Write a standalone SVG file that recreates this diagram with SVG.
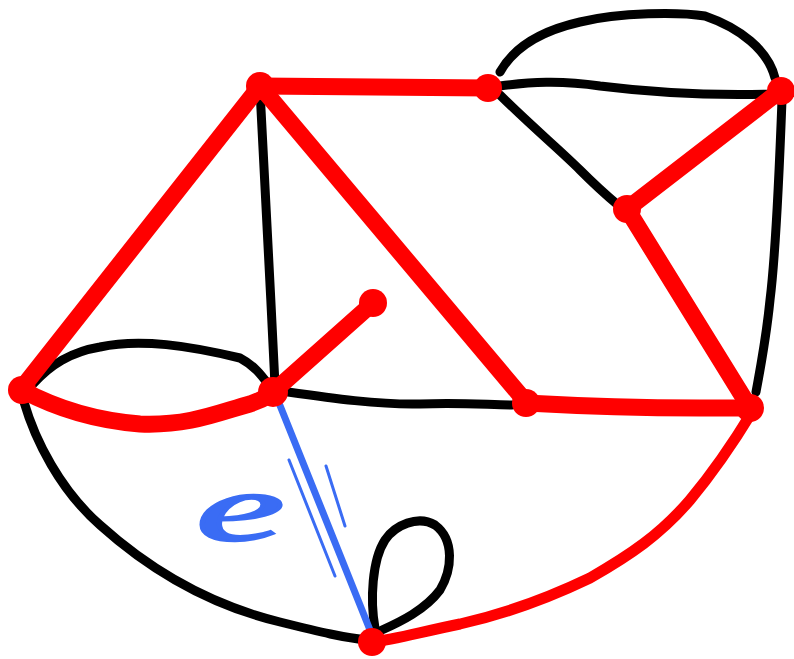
<svg xmlns="http://www.w3.org/2000/svg" width="794" height="659" viewBox="0 0 794 659">
<style>
.k{fill:none;stroke:#000;stroke-width:9;stroke-linecap:round;stroke-linejoin:round}
.r{fill:none;stroke:#ff0000;stroke-width:17;stroke-linecap:round;stroke-linejoin:round}
.rt{fill:none;stroke:#ff0000;stroke-width:11;stroke-linecap:round;stroke-linejoin:round}
.b{fill:none;stroke:#3a6cf4;stroke-linecap:round;stroke-linejoin:round}
.n{fill:#ff0000}
.lbl{font-family:"Liberation Serif",serif;font-style:italic;fill:#3a6cf4;stroke:#3a6cf4;stroke-width:2.5}
</style>
<rect width="794" height="659" fill="#fff"/>
<g id="connectors">
  <path class="k" d="M260,90 C263,150 270,280 275,385"/>
  <path class="k" d="M500,86 C530,82 560,80 600,86 C640,91 700,96 772,94"/>
  <path class="k" d="M500,72 C515,45 545,30 580,22 C620,12 680,12 705,16 C740,28 768,50 775,78"/>
  <path class="k" d="M500,95 C530,125 560,150 580,170 C600,190 612,200 618,205"/>
  <path class="k" d="M782,100 C779,180 775,260 770,300 C766,340 760,370 756,392"/>
  <path class="k" d="M33,384 C50,365 70,352 100,347 C140,338 190,346 240,358 C255,366 262,376 268,384"/>
  <path class="k" d="M288,392 C330,398 380,405 420,404 C460,402 490,405 512,405"/>
  <path class="k" d="M24,402 C35,440 60,490 100,525 C150,570 210,605 280,622 C320,632 345,638 368,640"/>
  <path class="k" d="M375,628 C370,600 372,560 385,540 C395,525 418,515 435,525 C455,540 452,570 440,590 C425,610 400,622 382,630"/>
  <path class="r" d="M260,86 L488,88"/>
  <path class="r" d="M260,86 L22,388"/>
  <path class="r" d="M260,86 L526,402"/>
  <path class="r" d="M273,392 L373,303"/>
  <path class="r" d="M22,390 C50,405 90,420 140,424 C190,426 220,412 250,404 C262,400 268,396 273,393"/>
  <path class="r" d="M526,403 C580,406 640,408 700,408 C720,408 740,408 750,408"/>
  <path class="r" d="M627,209 L781,90"/>
  <path class="r" d="M627,209 L750,408"/>
  <path class="rt" d="M752,412 C735,440 715,470 690,500 C660,535 630,555 590,578 C540,602 500,615 460,624 C420,632 395,640 372,642"/>
  <path class="b" stroke-width="7" d="M279,403 C300,455 320,505 340,555 C352,585 362,610 370,630"/>
  <path class="b" stroke-width="3" d="M289,460 L335,576"/>
  <path class="b" stroke-width="3" d="M326,466 L345,526"/>
</g>
<g id="label-e">
  <text class="lbl" x="196" y="540" font-size="95" transform="translate(196,540) scale(2.1,1) translate(-196,-540)">e</text>
</g>
<g id="node-A"><circle class="n" cx="260" cy="86" r="14"/></g>
<g id="node-B"><circle class="n" cx="488" cy="88" r="14"/></g>
<g id="node-C"><circle class="n" cx="781" cy="91" r="14"/></g>
<g id="node-D"><circle class="n" cx="627" cy="209" r="14"/></g>
<g id="node-E"><circle class="n" cx="373" cy="303" r="14"/></g>
<g id="node-F"><circle class="n" cx="22" cy="390" r="14"/></g>
<g id="node-G"><circle class="n" cx="273" cy="392" r="15"/></g>
<g id="node-H"><circle class="n" cx="526" cy="403" r="14"/></g>
<g id="node-I"><circle class="n" cx="750" cy="408" r="14"/></g>
<g id="node-J"><circle class="n" cx="372" cy="642" r="14"/></g>
</svg>
